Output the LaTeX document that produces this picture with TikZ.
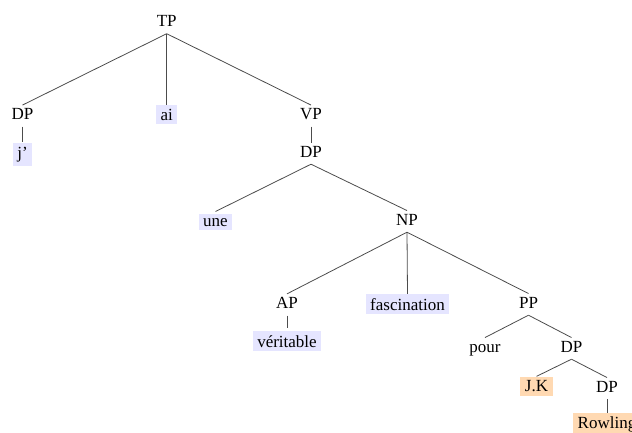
\documentclass[tikz,border=0pt]{standalone}
\usepackage{fontspec}
\setmainfont{Liberation Serif}
\begin{document}
\begin{tikzpicture}[x=1pt,y=-1pt,
  every node/.style={font=\fontsize{17}{20}\selectfont, anchor=base},
  lab/.style={inner xsep=4pt, inner ysep=3pt, text height=11.25pt, text depth=4pt},
  leafb/.style={fill=blue!10, inner xsep=4.5pt, inner ysep=4pt},
  leafo/.style={fill=orange!30, inner xsep=4.5pt, inner ysep=4pt},
  edge/.style={draw=black!70, line width=0.8pt}]
\useasboundingbox (0,0) rectangle (632,432);
\clip (0,0) rectangle (632,432);
% nodes
\node[lab] (TP) at (166.7,26.5) {TP};
\node[lab] (DPa) at (22.5,119.5) {DP};
\node[leafb] (ai) at (166.7,120) {ai};
\node[lab] (VP) at (311,119.5) {VP};
\node[leafb] (j) at (22.5,158) {j'};
\node[lab] (DPb) at (311,157) {DP};
\node[leafb, outer ysep=2.5pt] (une) at (215.5,226) {une};
\node[lab] (NP) at (407,225) {NP};
\node[lab] (AP) at (287,308.3) {AP};
\node[leafb] (fasc) at (407.5,310) {fascination};
\node[lab] (PP) at (528.5,308) {PP};
\node[leafb, outer ysep=3pt] (ver) at (287,347.3) {véritable};
\node[lab] (pour) at (485,352) {pour};
\node[lab] (DPc) at (571.5,352) {DP};
\node[leafo] (JK) at (536.5,391.7) {J.K};
\node[lab] (DPd) at (607,392) {DP};
\node[leafo] (Row) at (607,428.8) {Rowling};
% edges
\draw[edge] (TP.south) -- (DPa.north);
\draw[edge] (TP.south) -- (ai.north);
\draw[edge] (TP.south) -- (VP.north);
\draw[edge] (DPa.south) -- (j.north);
\draw[edge] (VP.south) -- (DPb.north);
\draw[edge] (DPb.south) -- (une.north);
\draw[edge] (DPb.south) -- (NP.north);
\draw[edge] (NP.south) -- (AP.north);
\draw[edge] (NP.south) -- (fasc.north);
\draw[edge] (NP.south) -- (PP.north);
\draw[edge] (AP.south) -- (ver.north);
\draw[edge] (PP.south) -- (pour.north);
\draw[edge] (PP.south) -- (DPc.north);
\draw[edge] (DPc.south) -- (JK.north);
\draw[edge] (DPc.south) -- (DPd.north);
\draw[edge] (DPd.south) -- (Row.north);
\end{tikzpicture}
\end{document}
